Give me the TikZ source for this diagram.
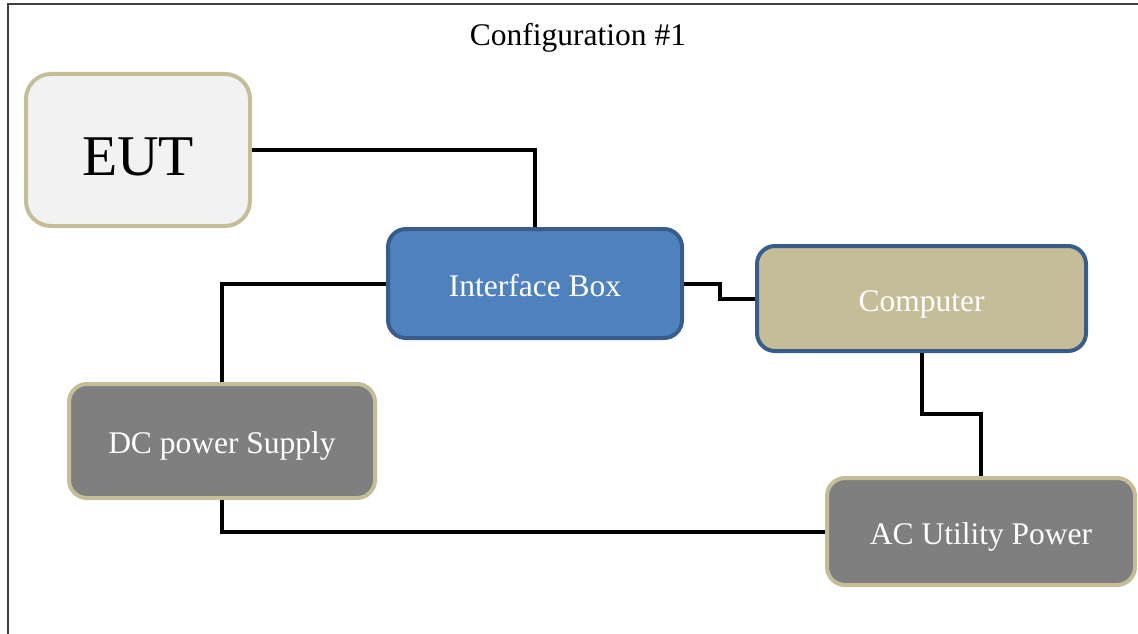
\documentclass[tikz,border=0pt]{standalone}
\usepackage{fontspec}
\setmainfont{Liberation Serif}
\definecolor{tan}{HTML}{C4BD97}
\definecolor{bborder}{HTML}{385D8A}
\definecolor{bfill}{HTML}{4F81BD}
\definecolor{gfill}{HTML}{7F7F7F}
\definecolor{lfill}{HTML}{F2F2F2}
\definecolor{frame}{HTML}{404040}
\tikzset{
  box/.style={rectangle, rounded corners=18pt, line width=4pt, inner sep=0pt,
    font=\fontsize{31.5}{36}\selectfont, text=white, text height=25.2pt, text depth=0pt},
  conn/.style={line width=4pt, black},
}
\begin{document}
\begin{tikzpicture}[x=1pt,y=-1pt]
\useasboundingbox (0,0) rectangle (1138,634);
\draw[frame, line width=2pt] (8,640) -- (8,4) -- (1145,4);
\node[font=\fontsize{31.5}{36}\selectfont, inner sep=0pt, text height=25.2pt, text depth=0pt] (title) at (578,33) {Configuration \#1};
\node[box, draw=tan, fill=lfill, text=black, rounded corners=25pt, minimum width=224pt, minimum height=152pt,
  font=\fontsize{57.6}{64}\selectfont, text height=51.8pt] (eut) at (138,150) {EUT};
\node[box, draw=bborder, fill=bfill, minimum width=294pt, minimum height=109pt] (ib) at (535,283.5) {Interface Box};
\node[box, draw=bborder, fill=tan, minimum width=329pt, minimum height=105pt] (comp) at (921.5,298.5) {Computer};
\node[box, draw=tan, fill=gfill, minimum width=306pt, minimum height=114pt] (dc) at (222,441) {DC power Supply};
\node[box, draw=tan, fill=gfill, minimum width=308pt, minimum height=107pt] (ac) at (981,531.5) {AC Utility Power};
\draw[conn] (eut.east) -| (ib.north);
\draw[conn] (ib.west) -| (dc.north);
\draw[conn] (ib.east) -- ++(36,0) |- (comp.west);
\draw[conn] (comp.south) -- ++(0,61) -| (ac.north);
\draw[conn] (dc.south) |- (ac.west);
\end{tikzpicture}
\end{document}
